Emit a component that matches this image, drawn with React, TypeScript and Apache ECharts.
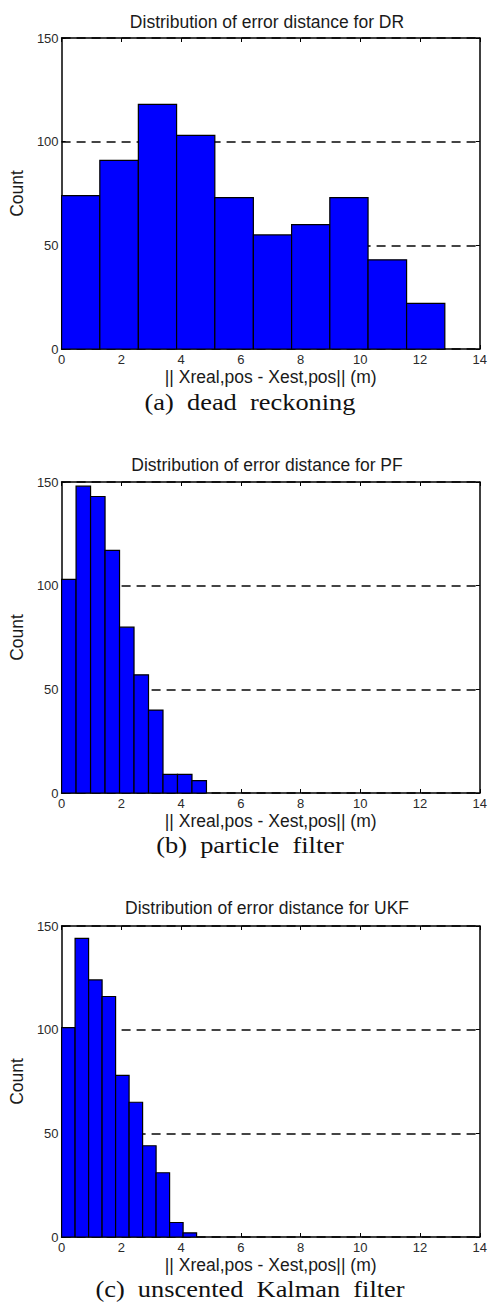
import React, { useEffect, useRef } from "react";
import * as echarts from "echarts";

// ---- data ----
const titles = [
  "Distribution of error distance for DR",
  "Distribution of error distance for PF",
  "Distribution of error distance for UKF",
];
const captions = ["(a)  dead  reckoning", "(b)  particle  filter", "(c)  unscented  Kalman  filter"];
const xAxisName = "|| Xreal,pos - Xest,pos|| (m)";
const yAxisName = "Count";

// histogram bin edges (m)
const drEdges = [0, 1.28, 2.57, 3.85, 5.13, 6.42, 7.7, 8.98, 10.26, 11.55, 12.83];
const pfEdges = [0, 0.485, 0.97, 1.455, 1.94, 2.425, 2.91, 3.395, 3.88, 4.365, 4.85];
const ukfEdges = [0, 0.452, 0.904, 1.356, 1.808, 2.26, 2.712, 3.164, 3.616, 4.068, 4.52];

// histogram counts
const drCounts = [74, 91, 118, 103, 73, 55, 60, 73, 43, 22];
const pfCounts = [103, 148, 143, 117, 80, 57, 40, 9, 9, 6];
const ukfCounts = [101, 144, 124, 116, 78, 65, 44, 31, 7, 2];

const xTicks = { min: 0, max: 14, interval: 2 };
const yTicks = { min: 0, max: 150, interval: 50 };

const panels = [
  { edges: drEdges, counts: drCounts },
  { edges: pfEdges, counts: pfCounts },
  { edges: ukfEdges, counts: ukfCounts },
];

// layout
const GRID_LEFT = 54;
const GRID_RIGHT = 10;
const GRID_H = 311;
const gridTops = [38, 482, 926];
const titleYs = [22, 465, 908];
const captionYs = [402, 845, 1289];
const SANS = "'Liberation Sans', Arial, sans-serif";
const SERIF = "'Liberation Serif', 'Times New Roman', serif";

export default function App() {
  const ref = useRef<HTMLDivElement>(null);

  useEffect(() => {
    if (!ref.current) return;
    const chart = echarts.init(ref.current, undefined, { renderer: "svg" });

    const grids: any[] = [];
    const xAxes: any[] = [];
    const yAxes: any[] = [];
    const series: any[] = [];
    const graphics: any[] = [];

    panels.forEach((p, i) => {
      grids.push({
        left: GRID_LEFT,
        right: GRID_RIGHT,
        top: gridTops[i],
        height: GRID_H,
        show: false,
      });
      const axisLine = { show: true, onZero: false, lineStyle: { color: "#000", width: 1.5 } };
      const axisTick = { show: true, inside: true, length: 4, lineStyle: { color: "#000", width: 1 } };
      xAxes.push({
        gridIndex: i,
        type: "value",
        position: "bottom",
        ...xTicks,
        axisLine,
        axisTick,
        axisLabel: { fontSize: 13, color: "#2a2a2a", fontFamily: SANS, margin: 4 },
        splitLine: { show: false },
        name: xAxisName,
        nameLocation: "middle",
        nameGap: 19,
        nameTextStyle: { fontSize: 17.5, color: "#1a1a1a", fontFamily: SANS },
      });
      xAxes.push({
        gridIndex: i,
        type: "value",
        position: "top",
        ...xTicks,
        axisLine,
        axisTick,
        axisLabel: { show: false },
        splitLine: { show: false },
      });
      yAxes.push({
        gridIndex: i,
        type: "value",
        position: "left",
        ...yTicks,
        axisLine,
        axisTick,
        axisLabel: { fontSize: 13, color: "#2a2a2a", fontFamily: SANS, margin: 3 },
        splitLine: {
          show: true,
          lineStyle: { color: "#444", width: 2, type: [9, 6] },
        },
        name: yAxisName,
        nameLocation: "middle",
        nameGap: 33,
        nameTextStyle: { fontSize: 17.5, color: "#1a1a1a", fontFamily: SANS },
      });
      yAxes.push({
        gridIndex: i,
        type: "value",
        position: "right",
        ...yTicks,
        axisLine,
        axisTick,
        axisLabel: { show: false },
        splitLine: { show: false },
      });

      const data = p.counts.map((c, k) => [p.edges[k], p.edges[k + 1], c]);
      series.push({
        type: "custom",
        xAxisIndex: 2 * i,
        yAxisIndex: 2 * i,
        z: 3,
        encode: { x: [0, 1], y: 2 },
        data,
        renderItem: (params: any, api: any) => {
          const a = api.coord([api.value(0), api.value(2)]);
          const b = api.coord([api.value(1), 0]);
          return {
            type: "rect",
            shape: { x: a[0], y: a[1], width: b[0] - a[0], height: b[1] - a[1] },
            style: { fill: "#0000ff", stroke: "#000", lineWidth: 1.2 },
          };
        },
      });

      graphics.push({
        type: "text",
        x: GRID_LEFT + (490 - GRID_LEFT - GRID_RIGHT) / 2,
        y: titleYs[i],
        style: {
          text: titles[i],
          fontSize: 17.5,
          fontFamily: SANS,
          fill: "#1a1a1a",
          textAlign: "center",
          textVerticalAlign: "middle",
        },
      });
      graphics.push({
        type: "text",
        x: 250,
        y: captionYs[i],
        scaleX: 1.1,
        style: {
          text: captions[i],
          fontSize: 24,
          lineHeight: 24,
          fontFamily: SERIF,
          fill: "#111",
          textAlign: "center",
          textVerticalAlign: "middle",
        },
      });
    });

    chart.setOption({
      animation: false,
      backgroundColor: "#fff",
      grid: grids,
      xAxis: xAxes,
      yAxis: yAxes,
      series,
      graphic: graphics,
    });

    return () => chart.dispose();
  }, []);

  return (
    <div
      ref={ref}
      style={{ position: "absolute", left: 0, top: 0, width: 490, height: 1309 }}
    />
  );
}
